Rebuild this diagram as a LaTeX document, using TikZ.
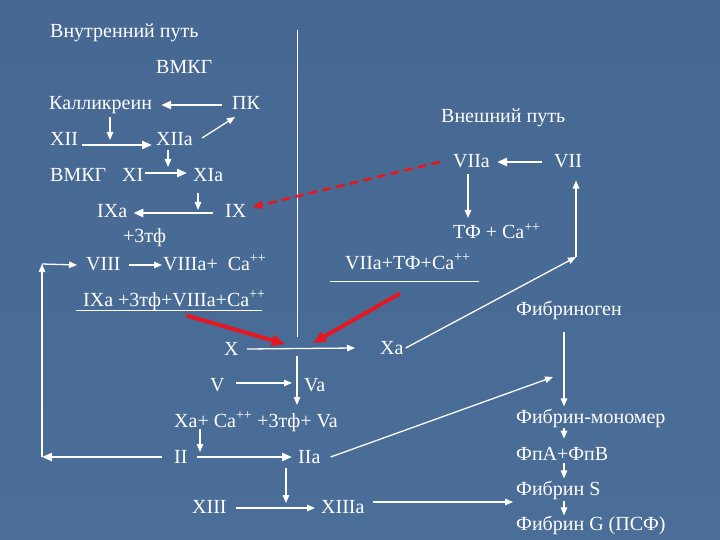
\documentclass[tikz,border=0pt]{standalone}
\usepackage{fontspec}
\setmainfont{Liberation Serif}
\usetikzlibrary{arrows.meta}
\definecolor{bgtop}{RGB}{70,104,146}
\definecolor{bgmid}{RGB}{90,126,170}
\definecolor{bgbot}{RGB}{74,110,152}
\definecolor{redline}{RGB}{228,24,32}
\begin{document}
\begin{tikzpicture}
        [
           x=1pt, y=-1pt,
           every node/.style={text=white, inner sep=0pt, anchor=base west, font=\fontsize{20}{24}\selectfont},
           arr/.style={draw=white, line width=1.3pt, -{Triangle[length=8pt,width=6.5pt]}},
           fat/.style={draw=white, line width=2.6pt, -{Triangle[length=10pt,width=8pt]}},
           divline/.style={draw=white, line width=1pt},
           redarr/.style={draw=redline, line width=4pt, -{Triangle[length=13pt,width=11pt]}},
           reddash/.style={draw=redline, line width=2.6pt, dash pattern=on 9pt off 5pt, -{Triangle[length=10pt,width=8pt]}}
        ]
        \useasboundingbox (0,0) rectangle (720,540);
        \shade[top color=bgtop, middle color=bgmid, bottom color=bgbot] (0,0) rectangle (720,540);

        \node (inner) at (50,38) {Внутренний путь};
        \node (vmkg) at (156,74) {ВМКГ};
        \node (kal) at (49,110) {Калликреин};
        \node (pk) at (232,110) {ПК};
        \node (xii) at (50,146) {XII};
        \node (xiia) at (156,146) {XIIa};
        \node (vmkgb) at (50,182) {ВМКГ};
        \node (xi) at (122,182) {XI};
        \node (xia) at (193,182) {XIa};
        \node (ixa) at (97,218) {IXa};
        \node (ix) at (225,218) {IX};
        \node (tfix) at (123,243) {+3тф};
        \node (viii) at (86,270) {VIII};
        \node (viiia) at (163,270) {VIIIa+\ \ Ca\textsuperscript{++}};
        \node (tenase) at (83,306) {IXa +3тф+VIIIa+Ca\textsuperscript{++}};
        \node (x) at (224,355) {X};
        \node (xa) at (380,354) {Xa};
        \node (v) at (210,391) {V};
        \node (va) at (304,391) {Va};
        \node (prot) at (174,427) {Xa+ Ca\textsuperscript{++} +3тф+ Va};
        \node (ii) at (174,463) {II};
        \node (iia) at (298,463) {IIa};
        \node (xiii) at (192,513) {XIII};
        \node (xiiia) at (321,513) {XIIIa};
        \node (outer) at (441,123) {Внешний путь};
        \node (viia) at (453,168) {VIIa};
        \node (vii) at (554,168) {VII};
        \node (tfca) at (453,239) {ТФ + Ca\textsuperscript{++}};
        \node (ext) at (345,269) {VIIa+ТФ+Ca\textsuperscript{++}};
        \node (fbg) at (516,315) {Фибриноген};
        \node (fmon) at (516,423) {Фибрин-мономер};
        \node (fpab) at (516,460) {ФпА+ФпВ};
        \node (fs) at (516,495) {Фибрин S};
        \node (fg) at (516,530) {Фибрин G (ПСФ)};

        \coordinate (kdrop) at (110,140);
        \coordinate (xiidrop) at (168,167);
        \coordinate (ixdrop) at (198,210);
        \coordinate (loopb) at (42,457);
        \coordinate (loopt) at (42,264);
        \coordinate (divtop) at (297,30);
        \coordinate (divgap) at (297,337);
        \coordinate (divlow) at (297,356);
        \coordinate (divend) at (297,405);
        \coordinate (xhub) at (297,349);
        \coordinate (iidrop) at (200,452);
        \coordinate (xiiidrop) at (286,503);
        \coordinate (fsg) at (513,502);
        \coordinate (fibdrop) at (553,377);
        \coordinate (col) at (564,0);
        \coordinate (viadrop) at (468,218);
        \coordinate (viirise) at (576,257);

        \draw[fat] ([shift={(-10,-5)}]pk.base west) -- ([shift={(9,-5)}]kal.base east);
        \draw[arr, shorten <=3pt] (kal.south -| kdrop) -- (kdrop);
        \draw[fat] ([shift={(4,-1)}]xii.base east) -- ([shift={(-4,-1)}]xiia.base west);
        \draw[arr] ([shift={(9,-8)}]xiia.base east) -- ([shift={(3,7)}]pk.base west);
        \draw[arr, shorten <=4pt] (xiia.base -| xiidrop) -- (xiidrop);
        \draw[fat] ([shift={(1,-9)}]xi.base east) -- ([shift={(-6,-9)}]xia.base west);
        \draw[arr, shorten <=11pt] (xia.base -| ixdrop) -- (ixdrop);
        \draw[fat] ([shift={(-12,-5)}]ix.base west) -- ([shift={(6,-5)}]ixa.base east);
        \draw[arr] ([shift={(8,-5)}]viii.base east) -- ([shift={(-1,-5)}]viiia.base west);
        \draw[arr] (loopb) -- (loopt);
        \draw[arr] (loopt) -- ([shift={(-9,-5)}]viii.base west);
        \draw[fat] ([shift={(-12,-6)}]ii.base west) -- (loopb);
        \draw[divline] ([xshift=-7pt]tenase.south west) -- ([xshift=-4pt]tenase.south east);
        \draw[redarr] ([shift={(12,5)}]tenase.south) -- ([shift={(-12,-5)}]xhub);
        \draw[redarr] ([shift={(-8,24)}]ext.south) -- ([shift={(16,-6)}]xhub);
        \draw[divline] (divtop) -- (divgap);
        \draw[arr] (divlow) -- (divend);
        \draw[arr] ([shift={(8,-6)}]x.base east) -- ([shift={(-25,-6)}]xa.base west);
        \draw[arr] ([shift={(11,-8)}]v.base east) -- ([shift={(-12,-8)}]va.base west);
        \draw[arr, shorten <=2pt] (prot.base -| iidrop) -- (iidrop);
        \draw[fat] ([shift={(9,-6)}]ii.base east) -- ([shift={(-6,-6)}]iia.base west);
        \draw[arr, shorten <=5pt] (iia.base -| xiiidrop) -- (xiiidrop);
        \draw[arr] ([shift={(9,-5)}]xiii.base east) -- ([shift={(-6,-5)}]xiiia.base west);
        \draw[arr] ([shift={(8,-11)}]xiiia.base east) -- (fsg);
        \draw[arr] ([shift={(10,-6)}]iia.base east) -- (fibdrop);
        \draw[arr, shorten <=13pt, shorten >=2pt] (fbg.south -| col) -- (fmon.north -| col);
        \draw[arr, shorten <=1pt, shorten >=8pt] (fmon.south -| col) -- (fpab.north -| col);
        \draw[arr, shorten <=3pt, shorten >=2pt] (fpab.south -| col) -- (fs.north -| col);
        \draw[arr, shorten <=2pt] (fs.south -| col) -- (fg.north -| col);
        \draw[fat] ([shift={(-12,-6)}]vii.base west) -- ([shift={(7,-6)}]viia.base east);
        \draw[arr, shorten <=5pt] (viia.south -| viadrop) -- (viadrop);
        \draw[arr, shorten >=12pt] (viirise) -- (viirise |- vii.south);
        \draw[arr] ([shift={(2,-6)}]xa.base east) -- (viirise);
        \draw[reddash] ([shift={(-13,-6)}]viia.base west) -- ([shift={(6,-11)}]ix.base east);
        \draw[divline] ([shift={(-15,12)}]ext.base west) -- ([shift={(8,12)}]ext.base east);
\end{tikzpicture}
\end{document}
